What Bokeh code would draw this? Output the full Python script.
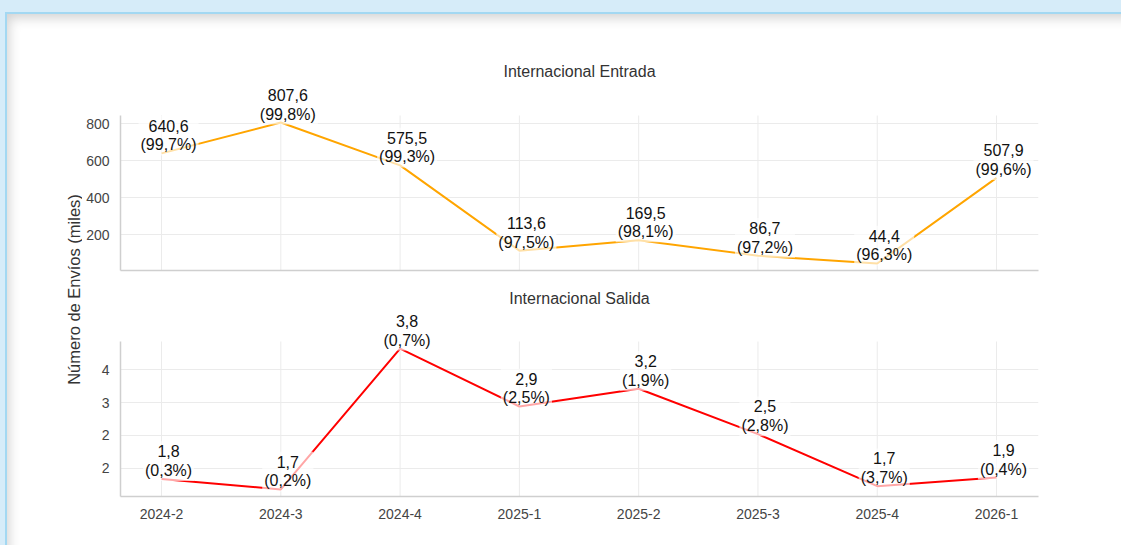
import math
from bokeh.plotting import figure
from bokeh.models import (Range1d, FixedTicker, Label, ColumnDataSource,
                          GlobalInlineStyleSheet)
from bokeh.layouts import row, column
from bokeh.embed import file_html
from bokeh.resources import INLINE
from bokeh.core.properties import value

# ---------------- data ----------------
periods = ["2024-2", "2024-3", "2024-4", "2025-1", "2025-2", "2025-3", "2025-4", "2026-1"]
entrada_vals = [640.6, 807.6, 575.5, 113.6, 169.5, 86.7, 44.4, 507.9]
entrada_pct = [99.7, 99.8, 99.3, 97.5, 98.1, 97.2, 96.3, 99.6]
salida_vals = [1.84, 1.68, 3.82, 2.94, 3.21, 2.52, 1.73, 1.86]
salida_pct = [0.3, 0.2, 0.7, 2.5, 1.9, 2.8, 3.7, 0.4]
entrada_ticks = [200, 400, 600, 800]
entrada_tick_labels = ["200", "400", "600", "800"]
salida_ticks = [2.0, 2.5, 3.0, 3.5]
salida_tick_labels = ["2", "2", "3", "4"]
y_title = "Número de Envíos (miles)"
title_top = "Internacional Entrada"
title_bottom = "Internacional Salida"

FONT = "Liberation Sans"
GRID = "#ebebeb"
AXIS = "#cfcfcf"
TICK_TXT = "#444444"
AXIS_PX = 155  # pixel height of the axis-covered part of each panel

x_idx = list(range(len(periods)))
xr = Range1d(-0.344, len(periods) - 1 + 0.352)


def fmt(v):
    return f"{v:.1f}".replace(".", ",")


def make_panel(title, vals, pcts, color, ticks, tick_labels,
               height, mbt, mbb, ext_px, show_x):
    lo, hi = min(vals), max(vals)
    span = hi - lo
    y0, y1 = lo - 0.05 * span, hi + 0.05 * span
    # room above the axis area so that the value labels are not clipped
    y_top = y1 + ext_px * (y1 - y0) / AXIS_PX
    p = figure(width=1039, height=height, x_range=xr, y_range=Range1d(y0, y_top),
               output_backend="svg", toolbar_location=None,
               min_border_left=38, min_border_right=83,
               min_border_top=mbt, min_border_bottom=mbb,
               title=title, border_fill_color=None,
               background_fill_color="white", outline_line_color=None)
    p.title.align = "center"
    p.title.text_font = FONT
    p.title.text_font_size = "16px"
    p.title.text_font_style = "normal"
    p.title.text_color = "#333333"
    p.title.standoff = 5

    if show_x:
        p.xaxis.ticker = FixedTicker(ticks=x_idx)
        p.xaxis.major_label_overrides = {i: periods[i] for i in x_idx}
        p.xaxis.major_label_text_font_size = "14px"
        p.xaxis.major_label_standoff = 12
    else:
        p.xaxis.ticker = FixedTicker(ticks=[])
        p.xaxis.major_label_standoff = 0
    p.yaxis.ticker = FixedTicker(ticks=ticks)
    p.yaxis.major_label_overrides = {t: l for t, l in zip(ticks, tick_labels)}
    p.yaxis.bounds = (y0, y1)
    for ax in (p.xaxis, p.yaxis):
        ax.axis_line_color = AXIS
        ax.axis_line_width = 1.5
        ax.major_tick_line_color = None
        ax.minor_tick_line_color = None
        ax.major_tick_out = 0
        ax.major_tick_in = 0
        ax.major_label_text_font = FONT
        ax.major_label_text_color = TICK_TXT
    p.yaxis.major_label_text_font_size = "14px"
    p.yaxis.major_label_standoff = 11
    p.xgrid.visible = False
    p.ygrid.grid_line_color = GRID
    p.ygrid.ticker = FixedTicker(ticks=ticks)

    # vertical grid lines limited to the axis area
    p.segment(x0=x_idx, x1=x_idx, y0=[y0] * len(x_idx), y1=[y1] * len(x_idx),
              line_color=GRID, line_width=1)

    labels = [f"{fmt(v)}\n({fmt(q)}%)" for v, q in zip(vals, pcts)]
    src = ColumnDataSource(dict(x=x_idx, y=vals, label=labels))
    p.line("x", "y", source=src, line_color=color, line_width=2)
    p.text(x="x", y="y", text="label", source=src,
           text_font=value(FONT), text_font_size=value("16px"),
           text_align="center", text_baseline="bottom",
           x_offset=7, y_offset=2, text_line_height=1.1,
           text_color="#111111",
           background_fill_color="white", background_fill_alpha=0.65,
           padding=2)
    return p


p1 = make_panel(title_top, entrada_vals, entrada_pct, "#FFA500",
                entrada_ticks, entrada_tick_labels, 264, 68, 8, 33, False)
p2 = make_panel(title_bottom, salida_vals, salida_pct, "#FF0000",
                salida_ticks, salida_tick_labels, 267, 31, 49, 32, True)

lab = figure(width=75, height=531, output_backend="svg", toolbar_location=None,
             x_range=Range1d(0, 1), y_range=Range1d(0, 1),
             min_border=0, border_fill_color=None, background_fill_color=None,
             outline_line_color=None)
lab.axis.visible = False
lab.grid.visible = False
lab.add_layout(Label(x=66, y=256, x_units="screen", y_units="screen",
                     text=y_title, angle=math.pi / 2,
                     text_align="center", text_baseline="middle",
                     text_font=FONT, text_font_size="16.5px",
                     text_color="#333333"))

root = row(lab, column(p1, p2))
root.styles = {
    "margin-top": "12px",
    "margin-left": "5px",
    "border-top": "2px solid #a3d8f2",
    "border-left": "2px solid #a3d8f2",
    "background-color": "white",
    "box-shadow": "inset 8px 10px 12px -6px rgba(0,0,0,0.18)",
}
root.stylesheets = [GlobalInlineStyleSheet(
    css="html, body { background-color: #d6ecf9; overflow: hidden; }")]

open("out.html", "w").write(file_html(root, INLINE))
